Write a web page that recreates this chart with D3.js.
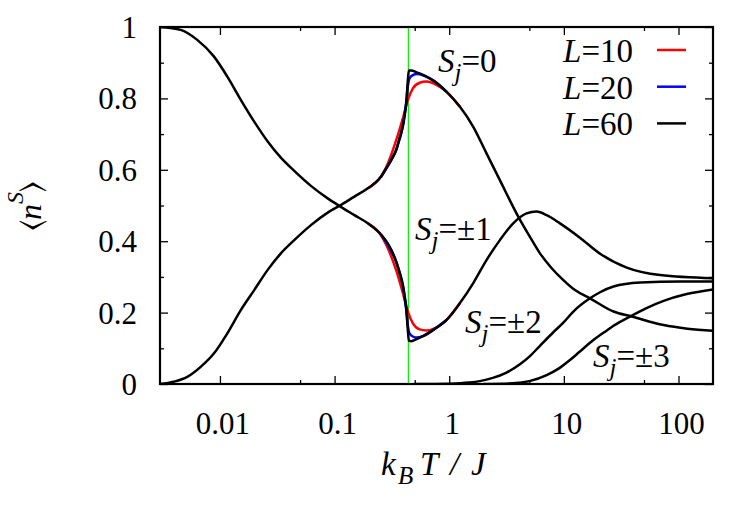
<!DOCTYPE html>
<html>
<head>
<meta charset="utf-8">
<script src="https://cdnjs.cloudflare.com/ajax/libs/d3/7.8.5/d3.min.js"></script>
</head>
<body style="margin:0;background:#fff">
<script>
// axis ticks
var xMajor = [0.01, 0.1, 1, 10, 100];
var xMinor = [0.05, 0.5, 5, 50];
var xLabels = ["0.01", "0.1", "1", "10", "100"];
var yMajor = [0, 0.2, 0.4, 0.6, 0.8, 1];
var yMinor = [0.1, 0.3, 0.5, 0.7, 0.9];
var yLabels = ["0", "0.2", "0.4", "0.6", "0.8", "1"];
var Tc = 0.44;

// <n_S> vs k_B T / J, pairs [T, n]
var L60_S0 = [[0.003,0],[0.00396,0.0065],[0.00519,0.020],[0.00679,0.048],[0.00888,0.086],[0.0116,0.142],
  [0.0152,0.207],[0.0199,0.263],[0.026,0.319],[0.034,0.366],[0.0445,0.403],[0.0622,0.445],[0.0871,0.480],
  [0.110,0.499],[0.149,0.525],[0.195,0.548],[0.255,0.581],[0.282,0.604],[0.312,0.627],[0.345,0.655],
  [0.37,0.69],[0.394,0.721],[0.41,0.755],[0.422,0.786],[0.436,0.852],[0.445,0.878],[0.467,0.878],
  [0.52,0.873],[0.59,0.866],[0.75,0.847],[0.945,0.819],[1.236,0.777],[1.616,0.721],[2.115,0.646],
  [2.766,0.571],[4.0,0.469],[5.0,0.415],[6.19,0.366],[7.8,0.325],[9.9,0.291],[12.5,0.263],[16.9,0.240],
  [27.1,0.203],[39.2,0.189],[74.2,0.165],[120,0.155],[200,0.149]];
var L60_S1 = [[0.003,1.0],[0.00454,0.992],[0.00634,0.964],[0.00888,0.917],[0.0116,0.861],[0.0152,0.796],
  [0.0199,0.735],[0.026,0.680],[0.034,0.634],[0.0445,0.597],[0.0622,0.555],[0.0871,0.520],[0.110,0.499],
  [0.149,0.473],[0.195,0.450],[0.255,0.418],[0.292,0.393],[0.334,0.355],[0.37,0.31],[0.394,0.278],
  [0.41,0.243],[0.422,0.212],[0.436,0.149],[0.445,0.121],[0.467,0.120],[0.52,0.126],[0.59,0.134],
  [0.721,0.151],[0.945,0.179],[1.236,0.226],[1.616,0.282],[2.115,0.347],[2.766,0.403],[3.615,0.450],
  [4.73,0.478],[5.78,0.483],[7.08,0.473],[9.25,0.450],[13.8,0.410],[20.7,0.365],[35.4,0.326],
  [69.2,0.305],[200,0.296]];
var L60_S2 = [[0.5,0],[1.0,0.001],[1.5,0.004],[1.85,0.008],[2.4,0.017],[3.16,0.032],[4.14,0.055],
  [5.06,0.078],[6.19,0.107],[8.09,0.145],[9.9,0.172],[12.1,0.203],[16.9,0.240],[20.7,0.257],
  [27.1,0.273],[46.4,0.284],[104,0.287],[200,0.287]];
var L60_S3 = [[2.0,0],[3.6,0.002],[5.0,0.008],[7.08,0.025],[9.0,0.043],[11.3,0.067],[13.8,0.091],
  [18.1,0.123],[23.7,0.150],[27.1,0.163],[37.8,0.189],[52,0.212],[74.2,0.233],[118,0.252],[200,0.265]];
var L10_S0 = [[0.195,0.548],[0.255,0.582],[0.282,0.607],[0.345,0.683],[0.394,0.744],[0.436,0.796],
  [0.482,0.828],[0.552,0.844],[0.631,0.847],[0.773,0.838],[0.945,0.819],[1.236,0.777]];
var L10_S1 = [[0.195,0.450],[0.255,0.416],[0.282,0.39],[0.345,0.318],[0.394,0.255],[0.436,0.203],
  [0.482,0.170],[0.552,0.153],[0.631,0.150],[0.773,0.158],[0.945,0.179],[1.236,0.226]];
var L20_S0 = [[0.255,0.581],[0.312,0.628],[0.345,0.657],[0.394,0.724],[0.422,0.790],[0.436,0.835],
  [0.452,0.857],[0.482,0.865],[0.52,0.868],[0.59,0.865],[0.75,0.847],[0.945,0.819]];
var L20_S1 = [[0.255,0.418],[0.312,0.372],[0.345,0.342],[0.394,0.275],[0.422,0.208],[0.436,0.163],
  [0.452,0.141],[0.482,0.133],[0.52,0.130],[0.59,0.134],[0.721,0.151],[0.945,0.179]];

var sizes = ["10", "20", "60"];
var colors = ["#ff0000", "#0000ff", "#000000"];

var serif = "Liberation Serif, Tinos, Times New Roman, Times, Nimbus Roman, Nimbus Roman No9 L, " +
    "FreeSerif, Noto Serif, DejaVu Serif, Bitstream Vera Serif, Georgia, serif";

var svg = d3.select("body").append("svg")
    .attr("width", 747)
    .attr("height", 507)
    .attr("font-family", serif);

var x = d3.scaleLog().domain([0.003, 200]).range([160, 713]);
var y = d3.scaleLinear().domain([0, 1]).range([384, 27]);

// ticks (inward, mirrored)
function ticks(axis, vals, size, tx, ty) {
    var g = svg.append("g")
        .attr("transform", "translate(" + tx + "," + ty + ")")
        .call(axis.tickValues(vals).tickSize(-size).tickFormat(""));
    g.select(".domain").remove();
    g.selectAll("line").attr("stroke", "#000").attr("stroke-width", 1.3);
}
ticks(d3.axisBottom(x), xMajor, 8, 0, 384);
ticks(d3.axisBottom(x), xMinor, 4, 0, 384);
ticks(d3.axisTop(x), xMajor, 8, 0, 27);
ticks(d3.axisTop(x), xMinor, 4, 0, 27);
ticks(d3.axisLeft(y), yMajor, 8, 160, 0);
ticks(d3.axisLeft(y), yMinor, 4, 160, 0);
ticks(d3.axisRight(y), yMajor, 8, 713, 0);
ticks(d3.axisRight(y), yMinor, 4, 713, 0);

// tick labels
svg.selectAll(".xl").data(xMajor).enter().append("text")
    .attr("x", function(d){ return x(d) + 3 })
    .attr("y", 434)
    .attr("text-anchor", "middle")
    .attr("font-size", 31)
    .text(function(d, i){ return xLabels[i] });
svg.selectAll(".yl").data(yMajor).enter().append("text")
    .attr("x", 137)
    .attr("y", function(d){ return y(d) + 11 })
    .attr("text-anchor", "end")
    .attr("font-size", 31)
    .text(function(d, i){ return yLabels[i] });

// green line at transition
svg.append("line")
    .attr("x1", x(Tc)).attr("x2", x(Tc))
    .attr("y1", y(1)).attr("y2", y(0))
    .attr("stroke", "#00ee00")
    .attr("stroke-width", 1.2);

var line = d3.line()
    .x(function(d){ return x(d[0]) })
    .y(function(d){ return y(d[1]) })
    .curve(d3.curveMonotoneX);

var series = [
    {data: L10_S0, c: colors[0]}, {data: L10_S1, c: colors[0]},
    {data: L20_S0, c: colors[1]}, {data: L20_S1, c: colors[1]},
    {data: L60_S0, c: colors[2]}, {data: L60_S1, c: colors[2]},
    {data: L60_S2, c: colors[2]}, {data: L60_S3, c: colors[2]}
];

svg.append("defs").append("clipPath").attr("id", "clip")
    .append("rect").attr("x", 160).attr("y", 27).attr("width", 553).attr("height", 357);

svg.append("g").attr("clip-path", "url(#clip)")
    .selectAll("path").data(series).enter().append("path")
    .attr("d", function(d){ return line(d.data) })
    .attr("fill", "none")
    .attr("stroke", function(d){ return d.c })
    .attr("stroke-width", 2.5)
    .attr("stroke-linejoin", "round");

// frame
svg.append("rect")
    .attr("x", 160).attr("y", 27)
    .attr("width", 553).attr("height", 357)
    .attr("fill", "none")
    .attr("stroke", "#000")
    .attr("stroke-width", 2.2);

// legend
sizes.forEach(function(s, i){
    var yy = 62 + i * 36.7;
    var t = svg.append("text")
        .attr("x", 633).attr("y", yy)
        .attr("text-anchor", "end")
        .attr("font-size", 33);
    t.append("tspan").attr("font-style", "italic").text("L");
    t.append("tspan").text("=" + s);
    svg.append("line")
        .attr("x1", 657).attr("x2", 686)
        .attr("y1", yy - 12).attr("y2", yy - 12)
        .attr("stroke", colors[i])
        .attr("stroke-width", 2.5);
});

// curve annotations
var notes = [
    {t: "=0", x: 438, y: 72},
    {t: "=\u00b11", x: 415, y: 240},
    {t: "=\u00b12", x: 465, y: 333},
    {t: "=\u00b13", x: 593, y: 367}
];
notes.forEach(function(n){
    var t = svg.append("text")
        .attr("x", n.x).attr("y", n.y)
        .attr("font-size", 33);
    t.append("tspan").attr("font-style", "italic").text("S");
    t.append("tspan").attr("font-style", "italic").attr("font-size", 25)
        .attr("dy", 9).text("j");
    t.append("tspan").attr("dy", -9).text(n.t);
});

// axis titles
var xt = svg.append("text").attr("y", 475)
    .attr("font-size", 33).attr("font-style", "italic");
xt.append("tspan").attr("x", 381).text("k");
xt.append("tspan").attr("x", 398).attr("dy", 9).attr("font-size", 25).text("B");
xt.append("tspan").attr("x", 420).attr("dy", -9).text("T");
xt.append("tspan").attr("x", 450).text("/");
xt.append("tspan").attr("x", 471).text("J");

var yt = svg.append("text")
    .attr("transform", "translate(41,206) rotate(-90)")
    .attr("text-anchor", "middle")
    .attr("font-size", 32);
yt.append("tspan").text("\u27e8");
yt.append("tspan").attr("font-style", "italic").text("n");
yt.append("tspan").attr("font-style", "italic").attr("font-size", 24).attr("dy", -18).text("S");
yt.append("tspan").attr("dy", 18).text("\u27e9");
</script>
</body>
</html>
